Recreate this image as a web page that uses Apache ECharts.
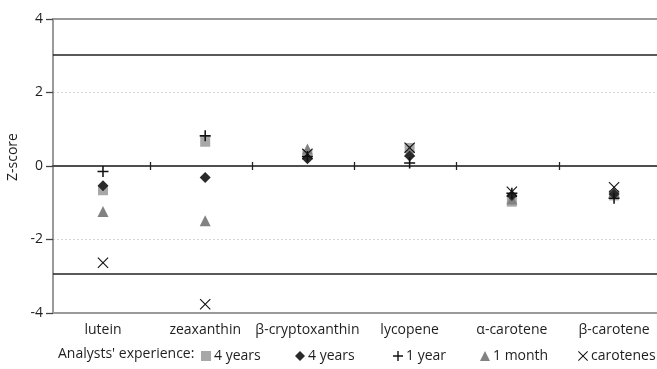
<!DOCTYPE html>
<html>
<head>
<meta charset="utf-8">
<script src="https://cdn.jsdelivr.net/npm/echarts@6/dist/echarts.min.js"></script>
<style>
html,body{margin:0;padding:0;background:#fff;}
#c{width:657px;height:369px;}
</style>
</head>
<body>
<div id="c"></div>
<script>
// ---- data ----
const categories = ['lutein', 'zeaxanthin', 'β-cryptoxanthin', 'lycopene', 'α-carotene', 'β-carotene'];
const catPos = [1, 2, 3, 4, 5, 6];
const boundaryTicks = [1.46, 2.46, 3.46, 4.46, 5.46];
const yTicks = [-4, -2, 0, 2, 4];
const limitLines = [3.03, -2.94];

const years4Square = [-0.66, 0.66, 0.30, 0.49, -0.97, -0.80];
const years4Diamond = [-0.54, -0.31, 0.20, 0.27, -0.80, -0.76];
const year1Plus = [-0.15, 0.82, 0.26, 0.08, -0.74, -0.88];
const month1Triangle = [-1.24, -1.49, 0.46, 0.40, -0.90, -0.70];
const carotenesX = [-2.63, -3.76, 0.33, 0.50, -0.70, -0.58];

const legendLabels = ['4 years', '4 years', '1 year', '1 month', 'carotenes'];
const legendTitle = "Analysts' experience:";
const yName = 'Z-score';

// ---- chart ----
const FONT = 'Open Sans';
const FS = 14;
const TXT = '#1e1e1e';
const plusPath = 'path://M8.6,0 H11.4 V8.6 H20 V11.4 H11.4 V20 H8.6 V11.4 H0 V8.6 H8.6 Z';
const xPath = 'path://M0,1.4 L1.4,0 L10,8.6 L18.6,0 L20,1.4 L11.4,10 L20,18.6 L18.6,20 L10,11.4 L1.4,20 L0,18.6 L8.6,10 Z';

function pts(vals) { return catPos.map((p, i) => [p, vals[i]]); }

const seriesDefs = [
  { id: 's0', values: years4Square, symbol: 'rect', size: 10, color: '#a8a8a8', label: legendLabels[0], legendLeft: 201 },
  { id: 's3', values: month1Triangle, symbol: 'triangle', size: 11, color: '#828282', label: legendLabels[3], legendLeft: 480 },
  { id: 's1', values: years4Diamond, symbol: 'diamond', size: 11, color: '#2a2a2a', label: legendLabels[1], legendLeft: 295 },
  { id: 's2', values: year1Plus, symbol: plusPath, size: 11, color: '#111', label: legendLabels[2], legendLeft: 393 },
  { id: 's4', values: carotenesX, symbol: xPath, size: 11, color: '#111', label: legendLabels[4], legendLeft: 578 }
];

const xMin = 0.511, xMax = 6.42;

const series = seriesDefs.map((d, i) => ({
  type: 'scatter',
  name: d.id,
  xAxisIndex: 0,
  yAxisIndex: 0,
  symbol: d.symbol,
  symbolSize: d.size,
  itemStyle: { color: d.color, opacity: 1 },
  data: pts(d.values),
  z: 5 + i,
  markLine: i === 0 ? {
    silent: true,
    symbol: 'none',
    label: { show: false },
    lineStyle: { color: '#222', width: 1.6, type: 'solid' },
    data: limitLines.map(v => ({ yAxis: v }))
  } : undefined
}));

const legends = seriesDefs.map(d => ({
  data: [d.id],
  left: d.legendLeft,
  top: 349,
  padding: 0,
  itemWidth: 10,
  itemHeight: 10,
  itemGap: 0,
  selectedMode: false,
  formatter: () => d.label,
  textStyle: { fontFamily: FONT, fontSize: FS, color: TXT, padding: [0, 0, 0, -2] }
}));

const chart = echarts.init(document.getElementById('c'), null, { renderer: 'canvas' });
chart.setOption({
  animation: false,
  backgroundColor: '#fff',
  title: {
    text: legendTitle,
    left: 58,
    top: 347,
    padding: 0,
    textStyle: { fontFamily: FONT, fontSize: FS, fontWeight: 'normal', color: TXT }
  },
  legend: legends,
  grid: { left: 53, right: 0, top: 19, bottom: 56, containLabel: false, outerBoundsMode: 'none' },
  xAxis: [
    { // bottom border + category labels
      type: 'value', position: 'bottom', min: xMin, max: xMax,
      axisLine: { show: true, onZero: false, lineStyle: { color: '#9a9a9a', width: 2 } },
      axisTick: { show: false },
      splitLine: { show: false },
      axisLabel: {
        show: true, customValues: catPos, margin: 10,
        formatter: v => categories[Math.round(v) - 1],
        fontFamily: FONT, fontSize: FS, color: TXT
      }
    },
    { // top border
      type: 'value', position: 'top', min: xMin, max: xMax,
      axisLine: { show: true, onZero: false, lineStyle: { color: '#9a9a9a', width: 2 } },
      axisTick: { show: false }, axisLabel: { show: false }, splitLine: { show: false }
    },
    { // zero line with ticks up
      type: 'value', position: 'top', min: xMin, max: xMax,
      axisLine: { show: true, onZero: true, onZeroAxisIndex: 0, lineStyle: { color: '#444', width: 1.6 } },
      axisTick: { show: true, customValues: boundaryTicks, length: 4, lineStyle: { color: '#222', width: 1.3 } },
      axisLabel: { show: false }, splitLine: { show: false }
    },
    { // zero line ticks down
      type: 'value', position: 'bottom', min: xMin, max: xMax,
      axisLine: { show: true, onZero: true, onZeroAxisIndex: 1, lineStyle: { color: '#444', width: 1.6 } },
      axisTick: { show: true, customValues: boundaryTicks, length: 4, lineStyle: { color: '#222', width: 1.3 } },
      axisLabel: { show: false }, splitLine: { show: false }
    }
  ],
  yAxis: [
    {
      type: 'value', min: -4, max: 4, interval: 2,
      name: yName, nameLocation: 'middle', nameGap: 27, nameRotate: 90,
      nameTextStyle: { fontFamily: FONT, fontSize: FS, color: TXT, padding: [0, 0, 0, 18] },
      axisLine: { show: true, lineStyle: { color: '#9a9a9a', width: 2 } },
      axisTick: { show: true, length: 7, lineStyle: { color: '#444', width: 1.3 } },
      axisLabel: { fontFamily: FONT, fontSize: FS, color: TXT, margin: 10, customValues: yTicks },
      splitLine: { show: true, lineStyle: { color: '#d4d4d4', width: 1, type: [2, 2] } }
    },
    {
      type: 'value', min: -4, max: 4, show: false, position: 'right',
      splitLine: { show: false }
    }
  ],
  series: series
});
</script>
</body>
</html>
